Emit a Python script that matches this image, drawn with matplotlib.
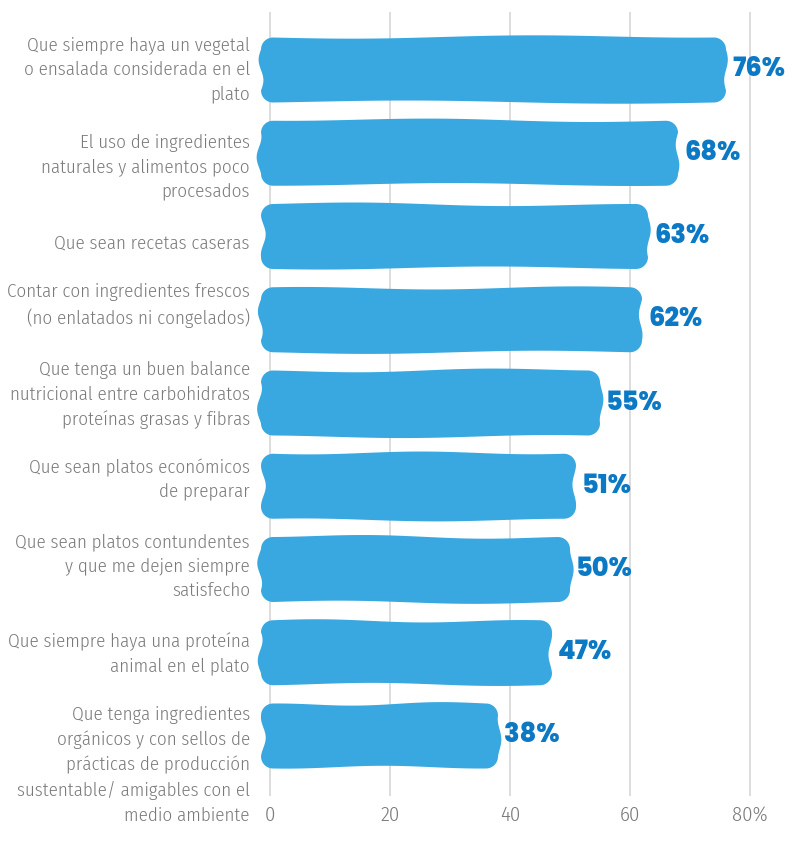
import numpy as np
import matplotlib.pyplot as plt
from matplotlib import font_manager
from matplotlib.patches import Polygon

# survey answers, top to bottom
labels = [
    "Que siempre haya un vegetal\no ensalada considerada en el\nplato",
    "El uso de ingredientes\nnaturales y alimentos poco\nprocesados",
    "Que sean recetas caseras",
    "Contar con ingredientes frescos\n(no enlatados ni congelados)",
    "Que tenga un buen balance\nnutricional entre carbohidratos\nproteínas grasas y fibras",
    "Que sean platos económicos\nde preparar",
    "Que sean platos contundentes\ny que me dejen siempre\nsatisfecho",
    "Que siempre haya una proteína\nanimal en el plato",
    "Que tenga ingredientes\norgánicos y con sellos de\nprácticas de producción\nsustentable/ amigables con el\nmedio ambiente",
]
values = [76, 68, 63, 62, 55, 51, 50, 47, 38]
tick_values = [0, 20, 40, 60, 80]
tick_labels = ["0", "20", "40", "60", "80%"]

BAR_COLOR = "#39a8e0"
VALUE_COLOR = "#0b79c4"
TEXT_COLOR = "#7a7a7a"
GRID_COLOR = "#dadada"


def pick_font(cands, min_weight):
    # first candidate that has a real bold-enough face installed
    for name in cands:
        for f in font_manager.fontManager.ttflist:
            w = f.weight if isinstance(f.weight, int) else font_manager.weight_dict.get(f.weight, 400)
            if f.name == name and w >= min_weight and f.style == "normal":
                return name
    return "DejaVu Sans"


TEXT_FONT = ["Fira Sans Condensed", "DejaVu Sans"]
VALUE_FONT = [pick_font(["Poppins", "Lato"], 800), "DejaVu Sans"]

W, H = 796, 841
fig = plt.figure(figsize=(W / 100, H / 100), dpi=100)
ax_left, ax_top, ax_bottom = 250, 12, 796
zero_px = 270
ax = fig.add_axes([ax_left / W, (H - ax_bottom) / H, (W - ax_left) / W, (ax_bottom - ax_top) / H])

sx = 6.0      # px per percent
sy = 83.25    # px per bar slot
first_center = 70
ax.set_xlim((ax_left - zero_px) / sx, (W - zero_px) / sx)
ax.set_ylim((ax_bottom - first_center) / sy, (ax_top - first_center) / sy)

for s in ax.spines.values():
    s.set_visible(False)
ax.set_xticks(tick_values)
ax.set_xticklabels(tick_labels, fontsize=15, color=TEXT_COLOR, family=TEXT_FONT, fontweight=300)
ax.tick_params(axis="x", length=0, pad=7)
ax.set_yticks([])
ax.xaxis.grid(True, color=GRID_COLOR, lw=1.3)
ax.set_axisbelow(True)


def wobble(t, amp, freq, phase):
    # sine wobble pinned to zero at both ends
    w = np.sin(2 * np.pi * freq * t + phase)
    w0 = np.sin(phase)
    w1 = np.sin(2 * np.pi * freq + phase)
    return amp * (w - ((1 - t) * w0 + t * w1))


def rough_bar(ax, i, value, h_px=65, r=12, start=-1.5):
    # rounded bar with slightly wobbly, hand drawn looking edges
    w_px = (value - start) * sx
    hh = h_px / 2
    ph = i * 1.37
    n = 50
    t = np.linspace(0, 1, n)
    pts = []
    # top edge
    pts += list(zip(r + t * (w_px - 2 * r), -hh + wobble(t, 1.4, 1.3, ph)))
    a = np.linspace(-np.pi / 2, 0, 12)
    pts += list(zip(w_px - r + r * np.cos(a), -hh + r + r * np.sin(a)))
    # right edge
    pts += list(zip(w_px + wobble(t, 1.8, 1.0, ph * 2.1), -hh + r + t * (h_px - 2 * r)))
    a = np.linspace(0, np.pi / 2, 12)
    pts += list(zip(w_px - r + r * np.cos(a), hh - r + r * np.sin(a)))
    # bottom edge
    pts += list(zip(w_px - r - t * (w_px - 2 * r), hh + wobble(t, 1.4, 1.1, ph * 0.7)))
    a = np.linspace(np.pi / 2, np.pi, 12)
    pts += list(zip(r + r * np.cos(a), hh - r + r * np.sin(a)))
    # left edge
    pts += list(zip(wobble(t, 2.4, 1.0, ph * 1.6), hh - r - t * (h_px - 2 * r)))
    a = np.linspace(np.pi, 1.5 * np.pi, 12)
    pts += list(zip(r + r * np.cos(a), -hh + r + r * np.sin(a)))
    pts = np.array(pts)
    xy = np.column_stack([start + pts[:, 0] / sx, i + pts[:, 1] / sy])
    ax.add_patch(Polygon(xy, closed=True, facecolor=BAR_COLOR, edgecolor="none", zorder=2))


label_offsets_px = [0, 14, 7, -14, -8, -6, -3, 1, 29]

for i, (lab, v) in enumerate(zip(labels, values)):
    rough_bar(ax, i, v)
    ax.text(v + 1.0, i, f"{v}%", fontsize=18.5, fontweight="heavy", family=VALUE_FONT,
            color=VALUE_COLOR, ha="left", va="center", zorder=3)
    ax.text((ax_left - zero_px) / sx, i + label_offsets_px[i] / sy, lab, fontsize=13.6,
            color=TEXT_COLOR, family=TEXT_FONT, fontweight=300,
            ha="right", va="center", linespacing=1.46, clip_on=False)

fig.savefig("out.png", dpi=100)
